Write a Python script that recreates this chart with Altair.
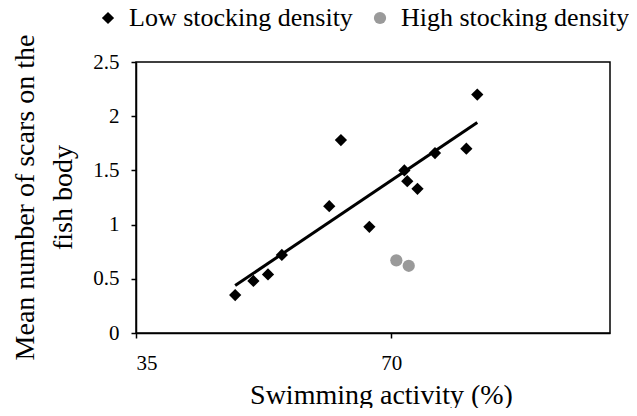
import altair as alt
import pandas as pd

# Low stocking density
low_x = [48.6, 51.1, 53.1, 55.0, 61.5, 63.1, 67.0, 71.8, 72.2, 73.6, 76.0, 80.3, 81.8]
low_y = [0.35, 0.48, 0.54, 0.72, 1.17, 1.78, 0.98, 1.50, 1.40, 1.33, 1.66, 1.70, 2.20]
# High stocking density
high_x = [70.7, 72.4]
high_y = [0.67, 0.62]

groups = ["Low stocking density", "High stocking density"]
x_ticks = [35, 70]
y_ticks = [0, 0.5, 1, 1.5, 2, 2.5]

df = pd.DataFrame({
    "x": low_x + high_x,
    "y": low_y + high_y,
    "g": [groups[0]] * len(low_x) + [groups[1]] * len(high_x),
})
low_df = df[df["g"] == groups[0]]

FONT = "Liberation Serif"

xscale = alt.Scale(domain=[35, 100], nice=False, zero=False)
yscale = alt.Scale(domain=[0, 2.5], nice=False)

xaxis = alt.Axis(values=x_ticks, grid=False, title="Swimming activity (%)",
                 labelFontSize=21, titleFontSize=28, labelPadding=14,
                 titleX=245, titleY=70, titleBaseline="alphabetic", titleAlign="center",
                 tickSize=5)
yaxis = alt.Axis(values=y_ticks, grid=False, format=".1~f",
                 title=["Mean number of scars on the", "fish body"],
                 labelFontSize=21, titleFontSize=28, labelPadding=12,
                 titleX=-111, titleY=135, titleBaseline="middle", titleAlign="center",
                 titleLineHeight=38, tickSize=5)

legend = alt.Legend(title=None, orient="none", direction="horizontal",
                    legendX=-41, legendY=-57, labelFontSize=26,
                    symbolSize=150, labelOffset=8, columnPadding=14,
                    labelLimit=400, symbolStrokeWidth=0)

points = alt.Chart(df).mark_point(filled=True, opacity=1, size=150).encode(
    x=alt.X("x:Q", scale=xscale, axis=xaxis),
    y=alt.Y("y:Q", scale=yscale, axis=yaxis),
    color=alt.Color("g:N", scale=alt.Scale(domain=groups, range=["#000000", "#9a9a9a"]),
                    legend=legend),
    shape=alt.Shape("g:N", scale=alt.Scale(domain=groups, range=["diamond", "circle"]),
                    legend=legend),
)

trend = alt.Chart(low_df).transform_regression("x", "y").mark_line(
    color="black", strokeWidth=3
).encode(
    x=alt.X("x:Q", scale=xscale),
    y=alt.Y("y:Q", scale=yscale),
)

chart = alt.layer(trend, points).properties(
    width=474, height=271,
    autosize=alt.AutoSizeParams(type="none"),
    padding={"left": 128, "top": 54, "right": 19, "bottom": 75},
).configure(
    font=FONT,
).configure_axis(
    labelFont=FONT, titleFont=FONT, labelColor="black", titleColor="black",
    domainColor="black", tickColor="black", domainWidth=1.5, tickWidth=1.5,
    titleFontWeight="normal",
).configure_legend(
    labelFont=FONT, labelColor="black",
).configure_view(
    stroke="black", strokeWidth=1.5,
)

chart.save("out.html", embed_options={"renderer": "svg", "actions": False})
